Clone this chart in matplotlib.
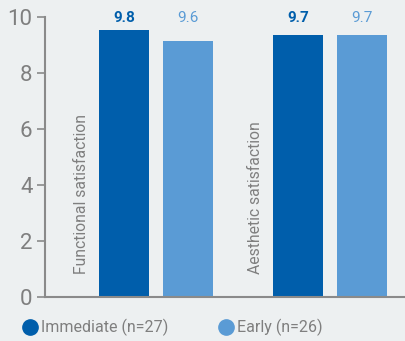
import numpy as np
import matplotlib.pyplot as plt
from matplotlib.lines import Line2D

plt.rcParams['font.family'] = ['Roboto', 'DejaVu Sans']

categories = ["Functional satisfaction", "Aesthetic satisfaction"]
immediate_heights = [9.55, 9.35]
early_heights = [9.15, 9.35]
immediate_labels = ["9.8", "9.7"]
early_labels = ["9.6", "9.7"]
legend_labels = ["Immediate (n=27)", "Early (n=26)"]

dark = "#005EAB"
light = "#5A9BD5"
grey = "#7f7f7f"
bg = "#EDF0F1"

fig = plt.figure(figsize=(4.06, 3.41), dpi=100, facecolor=bg)
ax = fig.add_axes([45 / 406, 44.3 / 341, 361 / 406, 279.7 / 341], facecolor=bg)

x = np.arange(len(categories))
w = 50 / 174
off = 32 / 174
ax.bar(x - off, immediate_heights, w, color=dark)
ax.bar(x + off, early_heights, w, color=light)

for i in range(len(categories)):
    ax.text(x[i] - off, 9.95, immediate_labels[i], ha="center", va="center",
            color=dark, fontsize=11, fontweight="bold")
    ax.text(x[i] + off, 9.95, early_labels[i], ha="center", va="center",
            color=light, fontsize=11)
    ax.text(x[i] - 0.43, 0.82, categories[i], rotation=90, ha="center",
            va="bottom", color=grey, fontsize=11.3)

ax.set_xlim((45 - 156) / 174, (406 - 156) / 174)
ax.set_ylim(0, 10)
ax.set_yticks([0, 2, 4, 6, 8, 10])
ax.set_xticks([])
for s in ["top", "right"]:
    ax.spines[s].set_visible(False)
for s in ["left", "bottom"]:
    ax.spines[s].set_color("#8a8a8a")
    ax.spines[s].set_linewidth(1.5)
ax.tick_params(axis="y", colors="#8a8a8a", labelcolor=grey, labelsize=16,
               length=6, width=1.2, pad=3)

handles = [Line2D([], [], marker="o", ls="", markersize=11, color=c) for c in (dark, light)]
fig.legend(handles, legend_labels, loc="center left", bbox_to_anchor=(0.015, 0.04),
           ncol=2, frameon=False, fontsize=11.5, labelcolor=grey, handletextpad=0.1,
           columnspacing=3.0, handlelength=1.2)

fig.savefig("out.png", dpi=100, facecolor=bg)
